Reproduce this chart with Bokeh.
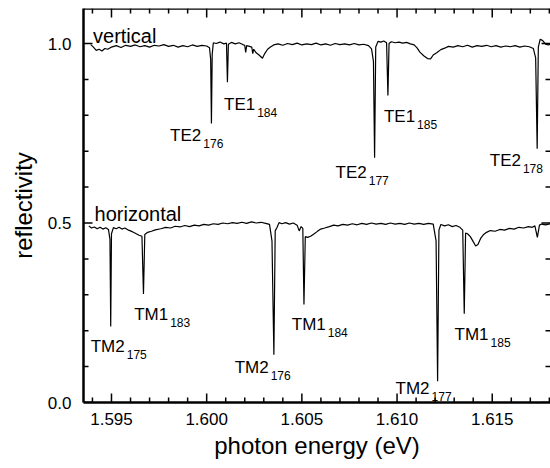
import math
from bokeh.plotting import figure
from bokeh.models import LinearAxis, FixedTicker, Range1d, ColumnDataSource, PrintfTickFormatter, Span
from bokeh.core.properties import value
from bokeh.embed import file_html
from bokeh.resources import INLINE

# ---------------- data ----------------
vert_energy = [
    1.59391, 1.59405, 1.59420, 1.59435, 1.59450, 1.59465, 1.59481, 1.59500, 1.59525, 1.59550,
    1.59575, 1.59600, 1.59625, 1.59650, 1.59675, 1.59700, 1.59725, 1.59750, 1.59775, 1.59800,
    1.59825, 1.59850, 1.59875, 1.59900, 1.59925, 1.59950, 1.59975, 1.60000, 1.60015, 1.60021,
    1.60025, 1.60029, 1.60035, 1.60050, 1.60070, 1.60090, 1.60104, 1.60109, 1.60114, 1.60130,
    1.60150, 1.60170, 1.60190, 1.60200, 1.60205, 1.60210, 1.60225, 1.60237, 1.60242, 1.60247,
    1.60260, 1.60275, 1.60293, 1.60305, 1.60320, 1.60335, 1.60352, 1.60375, 1.60400, 1.60425,
    1.60450, 1.60475, 1.60500, 1.60525, 1.60550, 1.60575, 1.60600, 1.60625, 1.60650, 1.60675,
    1.60700, 1.60725, 1.60750, 1.60775, 1.60800, 1.60825, 1.60850, 1.60866, 1.60876, 1.60882,
    1.60888, 1.60900, 1.60915, 1.60930, 1.60945, 1.60952, 1.60958, 1.60970, 1.60990, 1.61010,
    1.61030, 1.61050, 1.61070, 1.61090, 1.61105, 1.61120, 1.61140, 1.61160, 1.61176, 1.61190,
    1.61210, 1.61230, 1.61250, 1.61270, 1.61295, 1.61320, 1.61345, 1.61370, 1.61395, 1.61420,
    1.61445, 1.61470, 1.61495, 1.61520, 1.61545, 1.61570, 1.61595, 1.61620, 1.61645, 1.61670,
    1.61695, 1.61716, 1.61728, 1.61736, 1.61742, 1.61752, 1.61765, 1.61780, 1.61795, 1.61806,
]
vert_refl = [
    0.997, 0.990, 0.981, 0.984, 0.979, 0.986, 0.984, 0.990, 0.994, 0.989,
    0.995, 0.992, 0.996, 0.991, 0.994, 0.990, 0.995, 0.993, 0.997, 0.992,
    0.995, 0.990, 0.994, 0.991, 0.996, 0.992, 0.995, 0.993, 0.988, 0.955,
    0.777, 0.970, 1.002, 1.000, 1.004, 0.999, 1.001, 0.892, 0.998, 1.003,
    0.999, 1.002, 0.997, 0.995, 0.975, 0.994, 0.992, 0.990, 0.972, 0.984,
    0.974, 0.968, 0.959, 0.972, 0.984, 0.990, 0.996, 0.999, 0.995, 1.000,
    0.997, 1.001, 0.996, 0.999, 0.997, 1.001, 0.996, 0.999, 0.995, 1.000,
    0.997, 0.999, 0.996, 1.000, 0.996, 0.998, 0.994, 0.985, 0.950, 0.682,
    0.990, 1.006, 1.004, 1.007, 1.002, 0.855, 1.000, 1.005, 1.002, 1.004,
    1.001, 1.003, 0.999, 0.996, 0.988, 0.976, 0.966, 0.958, 0.957, 0.968,
    0.975, 0.983, 0.987, 0.992, 0.990, 0.994, 0.991, 0.995, 0.990, 0.994,
    0.992, 0.995, 0.991, 0.994, 0.990, 0.993, 0.991, 0.994, 0.990, 0.993,
    0.991, 0.986, 0.960, 0.707, 0.990, 1.012, 1.008, 0.998, 0.996, 0.998,
]

horiz_energy = [
    1.59381, 1.59395, 1.59410, 1.59425, 1.59440, 1.59455, 1.59470, 1.59484, 1.59492, 1.59496,
    1.59500, 1.59510, 1.59525, 1.59540, 1.59555, 1.59570, 1.59586, 1.59600, 1.59615, 1.59630,
    1.59645, 1.59660, 1.59668, 1.59675, 1.59690, 1.59710, 1.59730, 1.59759, 1.59785, 1.59810,
    1.59835, 1.59860, 1.59885, 1.59910, 1.59935, 1.59960, 1.59985, 1.60010, 1.60035, 1.60060,
    1.60085, 1.60110, 1.60135, 1.60160, 1.60185, 1.60210, 1.60235, 1.60260, 1.60285, 1.60310,
    1.60330, 1.60343, 1.60353, 1.60360, 1.60370, 1.60380, 1.60395, 1.60415, 1.60435, 1.60455,
    1.60475, 1.60486, 1.60496, 1.60505, 1.60511, 1.60518, 1.60530, 1.60546, 1.60565, 1.60580,
    1.60599, 1.60620, 1.60645, 1.60667, 1.60690, 1.60715, 1.60740, 1.60765, 1.60790, 1.60815,
    1.60840, 1.60865, 1.60890, 1.60915, 1.60940, 1.60965, 1.60990, 1.61015, 1.61040, 1.61065,
    1.61090, 1.61115, 1.61140, 1.61165, 1.61190, 1.61205, 1.61213, 1.61220, 1.61230, 1.61250,
    1.61270, 1.61290, 1.61310, 1.61330, 1.61345, 1.61353, 1.61360, 1.61370, 1.61385, 1.61400,
    1.61413, 1.61425, 1.61440, 1.61455, 1.61470, 1.61490, 1.61515, 1.61540, 1.61565, 1.61590,
    1.61615, 1.61640, 1.61665, 1.61690, 1.61710, 1.61724, 1.61737, 1.61748, 1.61760, 1.61780,
    1.61806,
]
horiz_refl = [
    0.492, 0.486, 0.489, 0.484, 0.488, 0.483, 0.487, 0.482, 0.455, 0.212,
    0.470, 0.487, 0.484, 0.488, 0.483, 0.486, 0.481, 0.478, 0.474, 0.470,
    0.466, 0.463, 0.302, 0.468, 0.474, 0.477, 0.481, 0.484, 0.488, 0.486,
    0.491, 0.489, 0.493, 0.490, 0.494, 0.492, 0.496, 0.494, 0.498, 0.496,
    0.500, 0.498, 0.501, 0.499, 0.502, 0.499, 0.503, 0.500, 0.502, 0.499,
    0.496, 0.450, 0.133, 0.478, 0.488, 0.501, 0.498, 0.501, 0.497, 0.500,
    0.494, 0.478, 0.490, 0.485, 0.273, 0.462, 0.460, 0.463, 0.470, 0.476,
    0.483, 0.486, 0.490, 0.494, 0.492, 0.496, 0.494, 0.498, 0.495, 0.499,
    0.496, 0.500, 0.497, 0.499, 0.496, 0.500, 0.497, 0.499, 0.496, 0.500,
    0.497, 0.499, 0.496, 0.499, 0.497, 0.450, 0.059, 0.480, 0.496, 0.492,
    0.495, 0.490, 0.493, 0.488, 0.480, 0.247, 0.472, 0.470, 0.462, 0.448,
    0.436, 0.440, 0.458, 0.468, 0.474, 0.479, 0.477, 0.482, 0.480, 0.485,
    0.483, 0.488, 0.486, 0.490, 0.488, 0.492, 0.460, 0.494, 0.497, 0.495,
    0.498,
]

# mode labels: main text, subscript, anchor (left edge, baseline) in data units
label_main = ["TE2", "TE1", "TE2", "TE1", "TE2", "TM2", "TM1", "TM2", "TM1", "TM2", "TM1"]
label_sub = ["176", "184", "177", "185", "178", "175", "183", "176", "184", "177", "185"]
label_x = [1.59808, 1.60091, 1.60677, 1.60931, 1.61487,
           1.59391, 1.59619, 1.60147, 1.60447, 1.60992, 1.61302]
label_y = [0.743, 0.830, 0.641, 0.796, 0.673,
           0.155, 0.245, 0.098, 0.217, 0.040, 0.189]

series_names = ["vertical", "horizontal"]
series_name_x = [1.59403, 1.59411]
series_name_y = [1.0214, 0.5256]

x_major = [1.595, 1.600, 1.605, 1.610, 1.615]
x_minor = [1.594, 1.596, 1.597, 1.598, 1.599, 1.601, 1.602, 1.603, 1.604,
           1.606, 1.607, 1.608, 1.609, 1.611, 1.612, 1.613, 1.614, 1.616, 1.617, 1.618]
y_major = [0.0, 0.5, 1.0]
y_minor = [0.1, 0.2, 0.3, 0.4, 0.6, 0.7, 0.8, 0.9]

X0, X1 = 1.59353, 1.61806
Y0, Y1 = 0.0, 1.0975

# ---------------- figure ----------------
FONT = "Liberation Sans"
MAIN_PX = 17
SUB_PX = 12
char_w = {"T": 0.611, "E": 0.667, "M": 0.833, "1": 0.556, "2": 0.556}

p = figure(width=550, height=468, output_backend="svg", toolbar_location=None,
           x_range=Range1d(X0, X1), y_range=Range1d(Y0, Y1),
           min_border_left=83, min_border_right=0, min_border_top=8, min_border_bottom=66,
           x_axis_location=None, y_axis_location=None)
p.outline_line_color = None
p.xgrid.grid_line_color = None
p.ygrid.grid_line_color = None
p.background_fill_color = "white"
p.border_fill_color = "white"


def make_axis(ticks, fmt):
    ax = LinearAxis(ticker=FixedTicker(ticks=ticks, minor_ticks=[]))
    ax.formatter = PrintfTickFormatter(format=fmt)
    ax.major_tick_in = 0
    ax.major_tick_out = 0
    ax.minor_tick_in = 0
    ax.minor_tick_out = 0
    ax.axis_line_width = 2.5
    ax.axis_line_color = "black"
    ax.major_label_text_font = FONT
    ax.major_label_text_font_size = "17px"
    ax.major_label_text_color = "black"
    ax.axis_label_text_font = FONT
    ax.axis_label_text_font_style = "normal"
    ax.axis_label_text_color = "black"
    ax.axis_label_text_font_size = "24px"
    return ax


xb = make_axis(x_major, "%.3f")
xb.axis_label = "photon energy (eV)"
xb.major_label_standoff = 10
xb.axis_label_standoff = 4
p.add_layout(xb, "below")

yl = make_axis(y_major, "%.1f")
yl.axis_label = "reflectivity"
yl.major_label_standoff = 12
yl.axis_label_standoff = 8
p.add_layout(yl, "left")

# top frame line
p.add_layout(Span(location=Y1, dimension="width", line_color="black", line_width=2.5))

# inward ticks on all four sides
MAJ, MIN, TW = 9, 5, 1.5
for xs, ln in ((x_major, MAJ), (x_minor, MIN)):
    p.ray(x=xs, y=[Y0] * len(xs), length=ln, length_units="screen", angle=math.pi / 2,
          line_color="black", line_width=TW)
    p.ray(x=xs, y=[Y1] * len(xs), length=ln, length_units="screen", angle=-math.pi / 2,
          line_color="black", line_width=TW)
for ys, ln in ((y_major, MAJ), (y_minor, MIN)):
    p.ray(x=[X0] * len(ys), y=ys, length=ln, length_units="screen", angle=0,
          line_color="black", line_width=TW)
    p.ray(x=[X1] * len(ys), y=ys, length=ln, length_units="screen", angle=math.pi,
          line_color="black", line_width=TW)

p.line(vert_energy, vert_refl, line_color="black", line_width=1.2)
p.line(horiz_energy, horiz_refl, line_color="black", line_width=1.2)

sub_dx = [sum(char_w[c] for c in m) * MAIN_PX + 2 for m in label_main]
src = ColumnDataSource(dict(x=label_x, y=label_y, main=label_main, sub=label_sub, dx=sub_dx))
p.text(x="x", y="y", text="main", source=src, text_font=value(FONT),
       text_font_size=f"{MAIN_PX}px", text_align="left", text_baseline="alphabetic",
       text_color="black")
p.text(x="x", y="y", text="sub", source=src, x_offset="dx", y_offset=8, text_font=value(FONT),
       text_font_size=f"{SUB_PX}px", text_align="left", text_baseline="alphabetic",
       text_color="black")

p.text(x=series_name_x, y=series_name_y, text=series_names, text_font=value(FONT),
       text_font_size="20px", text_align="left", text_baseline="alphabetic", text_color="black")

open("out.html", "w").write(file_html(p, INLINE))
